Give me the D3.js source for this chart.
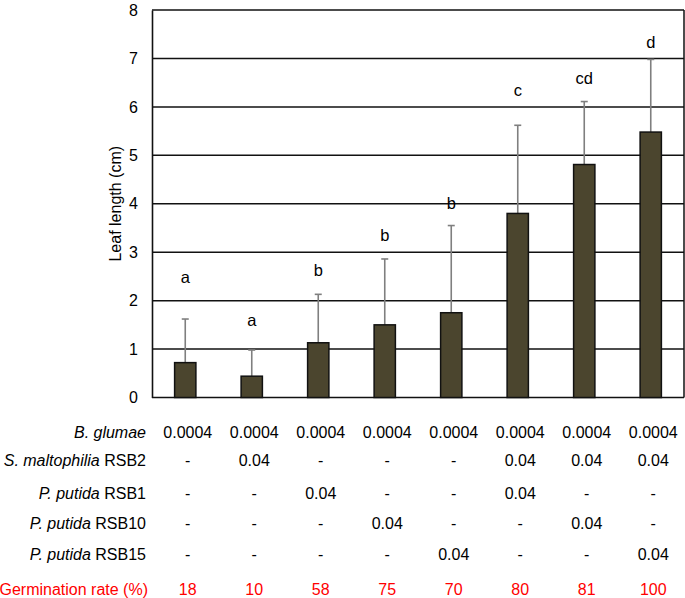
<!DOCTYPE html>
<html><head><meta charset="utf-8">
<script src="https://cdn.jsdelivr.net/npm/d3@7"></script>
<style>body{margin:0;background:#fff}svg{display:block;font-family:"Liberation Sans",Arial,sans-serif}</style>
</head><body><svg id="c" width="685" height="598"></svg>
<script>
const treatments = ["T1","T2","T3","T4","T5","T6","T7","T8"];
const leafLength = [0.72, 0.44, 1.13, 1.50, 1.75, 3.80, 4.81, 5.48];
const errorSD = [0.90, 0.54, 1.00, 1.36, 1.80, 1.82, 1.30, 1.50];
const sigLetters = ["a","a","b","b","b","c","cd","d"];
const letterLevel = [2.45, 1.56, 2.60, 3.32, 3.99, 6.31, 6.57, 7.31];
const yTicks = [0,1,2,3,4,5,6,7,8];
const rowNames = [
  {it:"B. glumae", rest:""},
  {it:"S. maltophilia", rest:" RSB2"},
  {it:"P. putida", rest:" RSB1"},
  {it:"P. putida", rest:" RSB10"},
  {it:"P. putida", rest:" RSB15"}
];
const bGlumae = ["0.0004","0.0004","0.0004","0.0004","0.0004","0.0004","0.0004","0.0004"];
const rsb2 = ["-","0.04","-","-","-","0.04","0.04","0.04"];
const rsb1 = ["-","-","0.04","-","-","0.04","-","-"];
const rsb10 = ["-","-","-","0.04","-","-","0.04","-"];
const rsb15 = ["-","-","-","-","0.04","-","-","0.04"];
const germLabel = "Germination rate (%)";
const germination = [18, 10, 58, 75, 70, 80, 81, 100];

const svg = d3.select("#c");
const L = 152, R = 684, T = 10, B = 397.5;
const FS = 16;
const x = d3.scaleBand().domain(treatments).range([L, R]).paddingInner(0.68).paddingOuter(0.34);
const y = d3.scaleLinear().domain([0, 8]).range([B, T]);

// gridlines
svg.append("g").selectAll("line").data(yTicks.filter(d => d > 0)).join("line")
  .attr("x1", L).attr("x2", R).attr("y1", d => y(d)).attr("y2", d => y(d))
  .attr("stroke", "#111").attr("stroke-width", 1.5);
// right border
svg.append("line").attr("x1", R).attr("x2", R).attr("y1", T).attr("y2", B)
  .attr("stroke", "#111").attr("stroke-width", 1.5);

// y axis
const ya = svg.append("g").attr("transform", `translate(${L},0)`)
  .call(d3.axisLeft(y).tickValues(yTicks).tickSize(0).tickPadding(14).tickFormat(d3.format("d")));
ya.select(".domain").attr("stroke", "#111").attr("stroke-width", 1.6);
ya.selectAll("text").attr("font-size", FS).attr("fill", "#000").attr("font-family", "Liberation Sans, Arial, sans-serif");

// x baseline
svg.append("line").attr("x1", L).attr("x2", R).attr("y1", B).attr("y2", B)
  .attr("stroke", "#111").attr("stroke-width", 1.6);

// error bars
const eg = svg.append("g");
treatments.forEach((t, i) => {
  const cx = x(t) + x.bandwidth() / 2;
  eg.append("line").attr("x1", cx).attr("x2", cx)
    .attr("y1", y(leafLength[i])).attr("y2", y(leafLength[i] + errorSD[i]))
    .attr("stroke", "#7f7f7f").attr("stroke-width", 1.6);
  eg.append("line").attr("x1", cx - 3.5).attr("x2", cx + 3.5)
    .attr("y1", y(leafLength[i] + errorSD[i])).attr("y2", y(leafLength[i] + errorSD[i]))
    .attr("stroke", "#7f7f7f").attr("stroke-width", 1.6);
});

// bars
svg.append("g").selectAll("rect").data(treatments).join("rect")
  .attr("x", d => x(d)).attr("width", x.bandwidth())
  .attr("y", (d, i) => y(leafLength[i])).attr("height", (d, i) => B - y(leafLength[i]))
  .attr("fill", "#4b452e").attr("stroke", "#111").attr("stroke-width", 1.5);

// letters
svg.append("g").selectAll("text").data(treatments).join("text")
  .attr("x", d => x(d) + x.bandwidth() / 2)
  .attr("y", (d, i) => y(letterLevel[i]) + 4.5)
  .attr("text-anchor", "middle").attr("font-size", 16.5).attr("fill", "#000")
  .text((d, i) => sigLetters[i]);

// y title
svg.append("text").attr("transform", `translate(121,${(T + B) / 2}) rotate(-90)`)
  .attr("text-anchor", "middle").attr("font-size", FS).attr("fill", "#000")
  .text("Leaf length (cm)");

// table
const rows = [bGlumae, rsb2, rsb1, rsb10, rsb15];
const rowY = [437.5, 466, 498.5, 529, 560];
const labelX = 146;
const colOff = 2.5;
rows.forEach((vals, r) => {
  const lt = svg.append("text").attr("x", labelX).attr("y", rowY[r])
    .attr("text-anchor", "end").attr("font-size", FS).attr("fill", "#000");
  lt.append("tspan").attr("font-style", "italic").text(rowNames[r].it);
  if (rowNames[r].rest) lt.append("tspan").text(rowNames[r].rest);
  svg.append("g").selectAll("text").data(treatments).join("text")
    .attr("x", d => x(d) + x.bandwidth() / 2 + colOff).attr("y", rowY[r])
    .attr("text-anchor", "middle").attr("font-size", FS).attr("fill", "#000")
    .text((d, i) => vals[i]);
});
svg.append("text").attr("x", 148).attr("y", 594.5).attr("text-anchor", "end")
  .attr("font-size", FS).attr("fill", "#ff0000").text(germLabel);
svg.append("g").selectAll("text").data(treatments).join("text")
  .attr("x", d => x(d) + x.bandwidth() / 2 + colOff).attr("y", 594.5)
  .attr("text-anchor", "middle").attr("font-size", FS).attr("fill", "#ff0000")
  .text((d, i) => germination[i]);
</script></body></html>
